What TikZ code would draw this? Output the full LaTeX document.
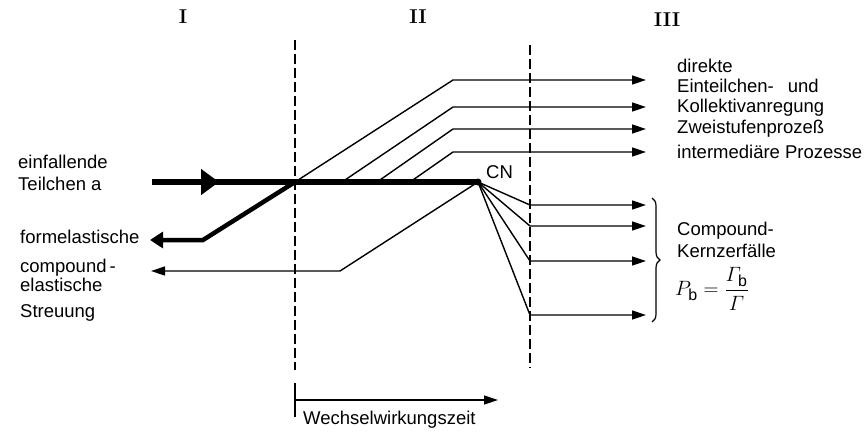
\documentclass[tikz,border=0pt]{standalone}
\usepackage{amsmath}
\usepackage{fontspec}
\setsansfont{Liberation Sans}
\usepackage{tikz}
\usetikzlibrary{arrows.meta,decorations.pathreplacing}

\begin{document}
\begin{tikzpicture}[
  x=1pt, y=-1pt,
  txt/.style={anchor=base west, inner sep=0pt, font=\sffamily\fontsize{18.5}{20}\selectfont},
  roman/.style={inner sep=0pt, font=\bfseries\fontsize{20}{22}\selectfont},
  thin/.style={line width=1.4pt},
  beam/.style={line width=5.5pt},
  arrow/.style={thin, -{Triangle[length=14pt, width=9pt]}},
  border/.style={line width=1.2pt, dash pattern=on 10pt off 4pt},
]
\useasboundingbox (0,0) rectangle (866,442);

% Regions
\node[roman] (reg1) at (183,17) {I};
\node[roman] (reg2) at (418,17) {II};
\node[roman] (reg3) at (667,20) {III};
\draw[border] (295,40) coordinate (b1top) -- (295,370) coordinate (b1bot);
\draw[border] (530,45) coordinate (b2top) -- (530,368) coordinate (b2bot);

% Coordinates
\coordinate (in) at (152,182);
\coordinate (intip) at (219,182);
\coordinate (cn) at (478,182);
\coordinate (s1) at (295,182);
\coordinate (s2) at (342,182);
\coordinate (s3) at (377,182);
\coordinate (s4) at (410,182);
\coordinate (k1) at (453,80);
\coordinate (k2) at (453,107);
\coordinate (k3) at (453,129);
\coordinate (k4) at (453,152);
\coordinate (e1) at (646,80);
\coordinate (e2) at (646,107);
\coordinate (e3) at (646,129);
\coordinate (e4) at (646,152);
\coordinate (fk) at (203,240);
\coordinate (fe) at (150,240);
\coordinate (ck) at (340,271);
\coordinate (ce) at (151,271);
\coordinate (d1) at (530,205);
\coordinate (d2) at (530,226);
\coordinate (d3) at (530,261);
\coordinate (d4) at (530,315);
\coordinate (f1) at (646,205);
\coordinate (f2) at (646,226);
\coordinate (f3) at (646,261);
\coordinate (f4) at (646,315);

% Arrows
\draw[beam] (in) -- (cn);
\draw[beam, -{Triangle[length=18pt, width=25pt]}] (in) -- (intip);
\fill (cn) circle (3.5pt);
\draw[line width=4.5pt, -{Triangle[length=13pt, width=16pt]}] (s1) -- (fk) -- (fe);
\draw[arrow] (cn) -- (ck) -- (ce);
\foreach \i in {1,...,4}{
  \draw[arrow] (s\i) -- (k\i) -- (e\i);
  \draw[arrow] (cn) -- (d\i) -- (f\i);
}
\draw[line width=1.2pt, decorate, decoration={brace, amplitude=8pt}] (652,198) -- (652,322);

% Labels
\node[txt] (cnlab) at (486,178) {CN};
\node[txt] (einf) at (18,168) {einfallende};
\node[txt] (teil) at (18,190) {Teilchen a};
\node[txt] (form) at (20,243) {formelastische};
\node[txt] (comp) at (20,272) {compound\,-};
\node[txt] (elas) at (20,291) {elastische};
\node[txt] (streu) at (20,317) {Streuung};
\node[txt] (dir) at (677,72) {direkte};
\node[txt] (ein) at (677,92) {Einteilchen-\hspace{14pt}und};
\node[txt] (koll) at (677,112) {Kollektivanregung};
\node[txt] (zwei) at (677,133) {Zweistufenprozeß};
\node[txt] (inter) at (677,158) {intermediäre Prozesse};
\node[txt] (cpd) at (677,235) {Compound-};
\node[txt] (kern) at (677,257) {Kernzerfälle};
\node[anchor=west, inner sep=0pt, font=\fontsize{19}{21}\selectfont] (pb) at (675,289)
  {\scalebox{1.2}{$P_{\textsf{b}}=\dfrac{\mathnormal{\Gamma}_{\textsf{b}}}{\mathnormal{\Gamma}}$}};

% Interaction time
\draw[thin] (295,383) coordinate (t0) -- (295,417);
\draw[arrow] (295,400) -- (498,400) coordinate (t1);
\node[txt] (wzeit) at (303,424) {Wechselwirkungszeit};
\end{tikzpicture}
\end{document}
